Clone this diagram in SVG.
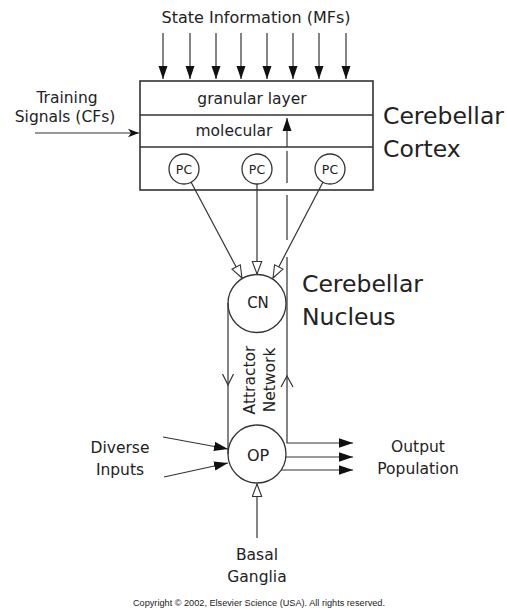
<svg xmlns="http://www.w3.org/2000/svg" width="507" height="610" viewBox="0 0 507 610">
<style>
text{font-family:"DejaVu Sans","Liberation Sans",sans-serif;fill:#222}
.lbl{font-size:15.5px;text-anchor:middle}
.big{font-size:23.5px}
.pc{font-size:12.5px;text-anchor:middle}
.ln{stroke:#333;stroke-width:1.2;fill:none}
.bx{stroke:#333;stroke-width:1.6;fill:#fff}
.nd{stroke:#333;stroke-width:1.3;fill:#fff}
</style>
<defs>
<marker id="fa" markerUnits="userSpaceOnUse" markerWidth="15" markerHeight="11" refX="14" refY="5" orient="auto"><path d="M0,0.3 L14,5 L0,9.7 z" fill="#111"/></marker>
<marker id="fs" markerUnits="userSpaceOnUse" markerWidth="14" markerHeight="11" refX="13" refY="5" orient="auto"><path d="M0,0.5 L13,5 L0,9.5 z" fill="#111"/></marker>
<marker id="ch" markerUnits="userSpaceOnUse" markerWidth="12" markerHeight="10" refX="11" refY="5" orient="auto"><path d="M0,0.8 L11,5 L0,9.2 L3,5 z" fill="#111"/></marker>
<marker id="op" markerUnits="userSpaceOnUse" markerWidth="15" markerHeight="12" refX="13.5" refY="5.5" orient="auto"><path d="M1,0.8 L13.5,5.5 L1,10.2 z" fill="#fff" stroke="#333" stroke-width="1.1"/></marker>
</defs>

<g id="labels">
<text class="lbl" x="256" y="23" style="font-size:16px">State Information (MFs)</text>
<text class="lbl" x="67" y="103">Training</text>
<text class="lbl" x="65" y="122">Signals (CFs)</text>
<text class="big" x="383" y="124">Cerebellar</text>
<text class="big" x="383" y="157">Cortex</text>
<text class="big" x="302" y="292">Cerebellar</text>
<text class="big" x="302" y="325">Nucleus</text>
<text class="lbl" x="120" y="453">Diverse</text>
<text class="lbl" x="120" y="475">Inputs</text>
<text class="lbl" x="418" y="452">Output</text>
<text class="lbl" x="418" y="474">Population</text>
<text class="lbl" x="257" y="560">Basal</text>
<text class="lbl" x="257" y="582">Ganglia</text>
<text class="lbl" transform="translate(255,380) rotate(-90)">Attractor</text>
<text class="lbl" transform="translate(275,380) rotate(-90)">Network</text>
<text x="259" y="606" style="font-family:'Liberation Sans',sans-serif;font-size:8.5px;text-anchor:middle" textLength="252" lengthAdjust="spacingAndGlyphs">Copyright © 2002, Elsevier Science (USA). All rights reserved.</text>
</g>

<g id="cortex">
<rect class="bx" x="140" y="81" width="233" height="109"/>
<line class="bx" x1="140" y1="115" x2="373" y2="115"/>
<line class="bx" x1="140" y1="147" x2="373" y2="147"/>
<text class="lbl" x="252" y="104">granular layer</text>
<text class="lbl" x="234" y="136">molecular</text>
</g>

<g id="pc1"><circle class="nd" cx="184" cy="169" r="15"/><text class="pc" x="184" y="173.5">PC</text></g>
<g id="pc2"><circle class="nd" cx="257" cy="169" r="15"/><text class="pc" x="257" y="173.5">PC</text></g>
<g id="pc3"><circle class="nd" cx="330" cy="169" r="15"/><text class="pc" x="330" y="173.5">PC</text></g>

<g id="connectors">
<line class="ln" x1="163" y1="33" x2="163" y2="79" marker-end="url(#fs)"/>
<line class="ln" x1="190" y1="33" x2="190" y2="79" marker-end="url(#fs)"/>
<line class="ln" x1="216" y1="33" x2="216" y2="79" marker-end="url(#fs)"/>
<line class="ln" x1="241" y1="33" x2="241" y2="79" marker-end="url(#fs)"/>
<line class="ln" x1="267" y1="33" x2="267" y2="79" marker-end="url(#fs)"/>
<line class="ln" x1="293" y1="33" x2="293" y2="79" marker-end="url(#fs)"/>
<line class="ln" x1="319" y1="33" x2="319" y2="79" marker-end="url(#fs)"/>
<line class="ln" x1="346" y1="33" x2="346" y2="79" marker-end="url(#fs)"/>
<line class="ln" x1="35" y1="133" x2="139" y2="133" marker-end="url(#ch)"/>
<line class="ln" x1="287" y1="147" x2="287" y2="118" marker-end="url(#fs)"/>
<line class="ln" x1="287" y1="151" x2="287" y2="183" stroke-width="1.6"/>
<line class="ln" x1="287" y1="195" x2="287" y2="240" stroke-width="1.4"/>
<line class="ln" x1="191" y1="182" x2="242" y2="278" marker-end="url(#op)"/>
<line class="ln" x1="257" y1="184" x2="257" y2="274" marker-end="url(#op)"/>
<line class="ln" x1="323" y1="182" x2="273" y2="278" marker-end="url(#op)"/>
<path class="ln" d="M287,257 V443 H353" marker-end="url(#fa)"/>
<line class="ln" x1="228" y1="303" x2="228" y2="454"/>
<polyline class="ln" points="222.5,374 228,385 233.5,374"/>
<polyline class="ln" points="281,387 287,376 293,387"/>
<line class="ln" x1="286" y1="457" x2="353" y2="457" marker-end="url(#fa)"/>
<line class="ln" x1="281" y1="470" x2="353" y2="470" marker-end="url(#fa)"/>
<line class="ln" x1="163" y1="437" x2="228" y2="449" marker-end="url(#fa)"/>
<line class="ln" x1="164" y1="477" x2="228" y2="463" marker-end="url(#fa)"/>
<line class="ln" x1="257" y1="538" x2="257" y2="484" marker-end="url(#op)"/>
</g>

<g id="cn"><circle class="nd" cx="257" cy="303.5" r="29" style="fill:none"/><text x="258" y="308" style="font-size:15px;text-anchor:middle">CN</text></g>
<g id="op"><circle class="nd" cx="257" cy="454" r="29" style="fill:none"/><text x="258" y="461" style="font-size:16px;text-anchor:middle">OP</text></g>
</svg>
